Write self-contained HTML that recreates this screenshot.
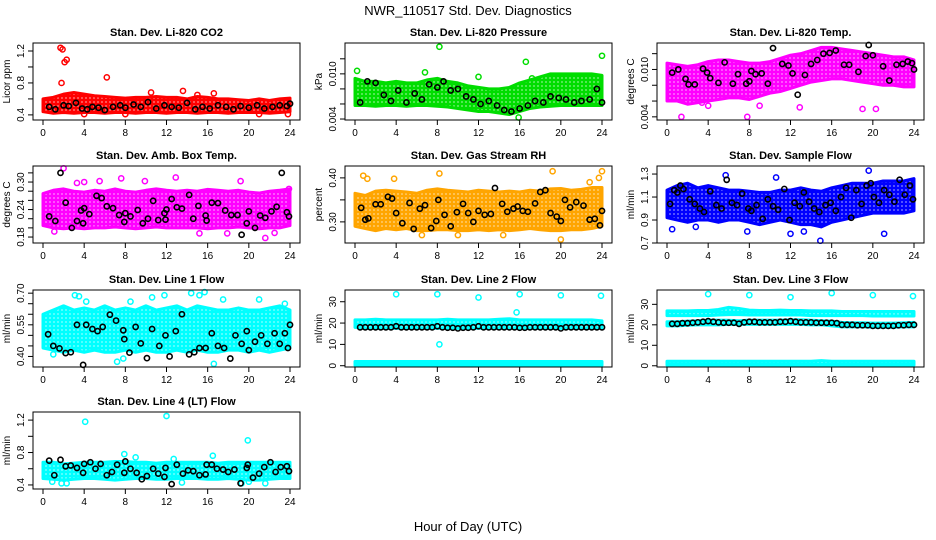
<!DOCTYPE html>
<html><head><meta charset="utf-8">
<style>
html,body{margin:0;padding:0;background:#fff;}
svg{display:block;font-family:"Liberation Sans",sans-serif;}
</style></head>
<body>
<svg id="chart" width="936" height="540" viewBox="0 0 936 540" xmlns="http://www.w3.org/2000/svg">
<defs id="defs"></defs>
<rect width="936" height="540" fill="#fff"/>
<text x="468" y="15" text-anchor="middle" font-size="13">NWR_110517  Std. Dev. Diagnostics</text>
<text x="468" y="531" text-anchor="middle" font-size="13">Hour of Day (UTC)</text>
</svg>
<script>
const hours = [0,1,2,3,4,5,6,7,8,9,10,11,12,13,14,15,16,17,18,19,20,21,22,23,24];
const xTicks = [0,4,8,12,16,20,24];

// CO2
const co2Lo = [0.44,0.42,0.43,0.42,0.43,0.43,0.42,0.43,0.43,0.42,0.43,0.43,0.42,0.43,0.43,0.42,0.43,0.43,0.42,0.43,0.43,0.43,0.42,0.43,0.44];
const co2Hi = [0.60,0.62,0.66,0.68,0.66,0.64,0.63,0.62,0.61,0.62,0.62,0.63,0.62,0.62,0.60,0.63,0.62,0.60,0.60,0.59,0.58,0.60,0.58,0.60,0.61];
const co2OutX = [1.7,1.9,2.1,2.3,1.8,6.2,13.6,16.6,23.8,8.0,4.0,10.5,15.0,21.0];
const co2OutY = [1.24,1.22,1.06,1.09,0.80,0.87,0.70,0.67,0.41,0.41,0.41,0.68,0.65,0.41];
const co2BlkX = [0.6,1.2,2.0,2.5,3.2,3.8,4.3,4.8,5.4,6.0,6.8,7.5,8.0,8.8,9.5,10.2,11.0,11.8,12.5,13.2,14.0,14.8,15.5,16.2,17.0,17.8,18.5,19.2,20.0,20.8,21.5,22.3,23.0,23.7,24.0];
const co2BlkY = [0.50,0.47,0.52,0.51,0.55,0.48,0.47,0.50,0.49,0.46,0.50,0.52,0.49,0.53,0.50,0.56,0.48,0.52,0.50,0.49,0.55,0.47,0.50,0.48,0.52,0.50,0.47,0.51,0.49,0.52,0.48,0.50,0.52,0.51,0.54];

// Pressure
const prsLo = [0.0058,0.0058,0.0057,0.0058,0.0058,0.0057,0.0058,0.0058,0.0057,0.0056,0.0054,0.0052,0.0050,0.0050,0.0048,0.0046,0.0050,0.0054,0.0056,0.0057,0.0058,0.0058,0.0058,0.0058,0.0058];
const prsHi = [0.0094,0.0090,0.0090,0.0088,0.0090,0.0088,0.0088,0.0092,0.0094,0.0090,0.0088,0.0084,0.0082,0.0080,0.0080,0.0082,0.0088,0.0092,0.0096,0.0100,0.0100,0.0100,0.0100,0.0100,0.0098];
const prsOutX = [8.2,16.6,24.0,0.2,17.2,15.9,6.8,12.0];
const prsOutY = [0.0136,0.0116,0.0124,0.0104,0.0094,0.0042,0.0102,0.0096];
const prsBlkX = [0.5,1.2,2.0,2.8,3.5,4.2,5.0,5.8,6.5,7.2,8.0,8.6,9.3,10.0,10.8,11.5,12.2,13.0,13.8,14.5,15.2,16.0,16.8,17.5,18.3,19.0,19.8,20.5,21.3,22.0,22.8,23.5,24.0];
const prsBlkY = [0.0062,0.0090,0.0088,0.0072,0.0064,0.0078,0.0062,0.0074,0.0066,0.0086,0.0082,0.0090,0.0078,0.0080,0.0070,0.0066,0.0060,0.0064,0.0058,0.0052,0.0050,0.0054,0.0058,0.0064,0.0062,0.0070,0.0068,0.0066,0.0062,0.0064,0.0066,0.0080,0.0062];

// Li-820 Temp
const tmpLo = [0.0060,0.0060,0.0056,0.0058,0.0060,0.0062,0.0064,0.0064,0.0062,0.0066,0.0070,0.0072,0.0076,0.0080,0.0084,0.0086,0.0088,0.0088,0.0086,0.0084,0.0082,0.0080,0.0080,0.0078,0.0078];
const tmpHi = [0.0108,0.0106,0.0104,0.0106,0.0110,0.0112,0.0112,0.0110,0.0108,0.0108,0.0110,0.0114,0.0118,0.0120,0.0124,0.0128,0.0128,0.0126,0.0124,0.0122,0.0120,0.0118,0.0116,0.0116,0.0112];
const tmpOutX = [1.4,7.8,12.9,19.0,20.3,9.0,4.0,3.4];
const tmpOutY = [0.0040,0.0040,0.0052,0.0050,0.0050,0.0054,0.0054,0.0058];
const tmpBlkX = [0.5,1.1,1.8,2.1,2.7,3.5,3.9,4.2,5.0,5.6,6.4,6.9,7.7,8.0,8.2,8.6,9.2,9.8,10.3,11.2,11.8,12.2,12.7,13.4,14.0,14.6,15.2,15.8,16.4,17.2,17.7,18.6,19.3,19.6,20.0,21.0,21.6,22.3,22.9,23.4,23.8,24.0];
const tmpBlkY = [0.0096,0.0100,0.0088,0.0081,0.0081,0.0101,0.0096,0.0089,0.0083,0.0109,0.0082,0.0094,0.0082,0.0085,0.0098,0.0094,0.0095,0.0082,0.0127,0.0107,0.0105,0.0095,0.0068,0.0093,0.0107,0.0112,0.0120,0.0121,0.0124,0.0106,0.0106,0.0097,0.0117,0.0131,0.0118,0.0104,0.0086,0.0106,0.0107,0.0110,0.0108,0.0100];

// Amb box temp
const ambLo = [0.205,0.200,0.198,0.200,0.198,0.200,0.200,0.202,0.200,0.198,0.200,0.202,0.200,0.200,0.200,0.200,0.198,0.200,0.200,0.202,0.200,0.198,0.200,0.200,0.205];
const ambHi = [0.275,0.282,0.285,0.280,0.278,0.282,0.280,0.285,0.280,0.278,0.282,0.285,0.282,0.280,0.282,0.280,0.284,0.282,0.280,0.282,0.278,0.276,0.280,0.282,0.285];
const ambOutX = [2.0,5.5,7.6,12.9,3.3,15.2,19.2,21.6,17.9,22.5,23.9,1.1,9.9,4.0];
const ambOutY = [0.330,0.302,0.308,0.310,0.298,0.188,0.302,0.178,0.188,0.189,0.285,0.192,0.302,0.300];
const ambBlkX = [0.6,1.2,1.7,2.2,2.8,3.3,3.7,3.9,4.0,4.5,5.2,5.7,6.2,6.8,7.4,7.9,8.0,8.5,9.2,9.7,10.2,10.7,11.2,11.8,11.9,12.0,12.5,13.0,13.5,14.2,14.6,15.1,15.8,15.9,16.4,17.0,17.7,18.3,18.9,19.3,19.8,20.0,20.6,21.1,21.6,22.2,22.7,23.2,23.7,23.9];
const ambBlkY = [0.225,0.215,0.320,0.255,0.200,0.215,0.238,0.210,0.243,0.230,0.270,0.265,0.247,0.243,0.228,0.213,0.232,0.225,0.239,0.210,0.220,0.259,0.217,0.232,0.218,0.240,0.263,0.245,0.242,0.272,0.220,0.248,0.227,0.216,0.255,0.254,0.238,0.228,0.228,0.185,0.210,0.236,0.200,0.227,0.222,0.236,0.246,0.320,0.234,0.225];

// RH
const rhLo = [0.290,0.285,0.280,0.285,0.282,0.285,0.280,0.280,0.282,0.282,0.280,0.280,0.282,0.280,0.282,0.280,0.282,0.285,0.282,0.280,0.280,0.282,0.282,0.285,0.290];
const rhHi = [0.365,0.360,0.370,0.372,0.370,0.368,0.365,0.372,0.375,0.372,0.370,0.368,0.372,0.370,0.368,0.370,0.368,0.372,0.370,0.375,0.376,0.372,0.374,0.378,0.378];
const rhOutX = [0.8,1.2,3.8,8.2,6.5,14.4,19.2,20.0,24.0,23.7,22.8,10.0];
const rhOutY = [0.405,0.398,0.398,0.410,0.270,0.270,0.415,0.260,0.415,0.400,0.390,0.270];
const rhBlkX = [0.6,1.0,1.3,2.0,2.5,3.2,3.6,4.0,4.6,5.3,5.7,6.3,6.8,7.4,7.9,8.1,8.7,9.3,9.9,10.5,11.0,11.5,12.0,12.6,13.2,13.6,14.3,14.8,15.4,15.8,16.3,16.8,17.5,18.0,18.5,19.0,19.6,20.0,20.4,20.9,21.5,22.2,22.8,23.3,23.8,24.0];
const rhBlkY = [0.332,0.305,0.308,0.340,0.340,0.357,0.353,0.320,0.297,0.343,0.284,0.330,0.338,0.286,0.302,0.350,0.316,0.290,0.322,0.341,0.320,0.300,0.325,0.316,0.318,0.377,0.341,0.323,0.330,0.335,0.325,0.323,0.342,0.368,0.372,0.320,0.312,0.302,0.350,0.333,0.345,0.337,0.305,0.307,0.292,0.325];

// Sample flow
const smpLo = [0.92,0.90,0.88,0.90,0.90,0.88,0.90,0.90,0.88,0.86,0.88,0.90,0.88,0.86,0.86,0.84,0.88,0.90,0.92,0.94,0.96,0.96,0.96,0.96,0.98];
const smpHi = [1.16,1.20,1.22,1.18,1.20,1.18,1.16,1.16,1.15,1.14,1.14,1.16,1.16,1.18,1.16,1.15,1.18,1.20,1.22,1.22,1.22,1.24,1.24,1.24,1.26];
const smpOutX = [0.5,5.7,10.6,19.6,14.9,21.1,7.8,12.0,13.3,2.8];
const smpOutY = [0.82,1.29,1.27,1.33,0.72,0.78,0.80,0.78,0.80,0.84];
const smpBlkX = [0.3,0.7,1.0,1.3,1.6,2.2,2.7,3.2,3.6,4.2,4.8,5.3,5.8,6.3,6.8,7.3,7.9,8.2,8.7,9.3,9.8,10.3,10.8,11.4,11.9,12.4,12.9,13.3,13.8,14.3,14.8,15.4,15.9,16.4,16.9,17.4,17.9,18.4,18.9,19.4,19.8,20.1,20.6,21.1,21.6,22.1,22.6,23.1,23.6,23.9];
const smpBlkY = [1.04,1.16,1.14,1.20,1.17,1.08,1.04,1.00,0.97,1.15,1.03,1.00,1.25,1.05,1.03,1.13,1.00,0.98,1.03,0.91,1.08,1.02,0.99,1.17,0.90,1.05,1.02,1.14,1.06,1.00,0.97,1.03,1.05,0.98,1.10,1.18,0.92,1.16,1.04,1.20,1.22,1.10,1.05,1.16,1.12,1.06,1.25,1.12,1.20,1.08];

// Line 1 flow
const l1Lo = [0.44,0.43,0.42,0.43,0.42,0.43,0.42,0.42,0.43,0.42,0.43,0.42,0.42,0.43,0.42,0.43,0.42,0.42,0.43,0.43,0.42,0.43,0.42,0.43,0.44];
const l1Hi = [0.60,0.62,0.64,0.62,0.63,0.62,0.64,0.62,0.63,0.62,0.64,0.62,0.63,0.64,0.62,0.64,0.63,0.62,0.62,0.63,0.62,0.62,0.63,0.64,0.62];
const l1OutX = [3.1,3.5,4.2,7.2,8.5,10.6,14.4,15.2,15.7,16.6,7.8,11.8,17.5,23.5,21.0,1.0];
const l1OutY = [0.690,0.685,0.660,0.375,0.660,0.680,0.700,0.690,0.705,0.365,0.390,0.690,0.670,0.650,0.670,0.410];
const l1BlkX = [0.5,1.0,1.6,2.2,2.7,3.3,3.9,4.2,4.8,5.3,5.8,6.5,7.1,7.8,7.9,8.4,9.0,9.5,10.1,10.6,11.3,11.9,12.3,12.9,13.5,14.2,14.7,15.2,15.8,16.4,17.0,17.6,18.2,18.7,19.3,19.8,20.0,20.6,21.2,21.8,22.5,23.0,23.5,23.8,24.0];
const l1BlkY = [0.505,0.450,0.438,0.416,0.420,0.550,0.360,0.550,0.530,0.520,0.540,0.598,0.570,0.524,0.482,0.418,0.540,0.462,0.392,0.530,0.450,0.500,0.400,0.520,0.600,0.410,0.420,0.440,0.440,0.510,0.450,0.440,0.390,0.500,0.460,0.520,0.430,0.470,0.500,0.460,0.510,0.460,0.510,0.440,0.550];

// Line 2 flow
const l2MainLo = [18.0,17.5,17.5,17.5,17.5,17.5,17.5,17.5,17.5,17.5,17.5,17.5,17.5,17.5,17.5,17.5,17.5,17.5,17.5,17.5,17.5,17.5,17.5,17.5,17.5];
const l2MainHi = [21.5,21.5,21.8,21.5,21.5,21.5,21.5,21.5,21.5,21.8,21.5,21.5,21.5,21.5,21.8,22.0,21.5,21.5,21.5,21.5,21.5,21.5,21.5,21.5,21.0];
const l2BaseLo = [0.2,0.2,0.2,0.2,0.2,0.2,0.2,0.2,0.2,0.2,0.2,0.2,0.2,0.2,0.2,0.2,0.2,0.2,0.2,0.2,0.2,0.2,0.2,0.2,0.2];
const l2BaseHi = [2.0,2.0,2.0,2.0,2.0,2.0,2.0,2.0,2.0,2.0,2.0,2.0,2.0,2.0,2.0,2.0,2.0,2.0,2.0,2.0,2.0,2.0,2.0,2.0,2.0];
const l2OutX = [4.0,8.0,12.0,16.0,20.0,23.9,8.2,15.7];
const l2OutY = [33.5,33.5,32.0,33.5,33.0,32.8,10.0,25.0];
const l2BlkX = [0.5,1.0,1.5,2.0,2.5,3.0,3.5,4.0,4.5,5.0,5.5,6.0,6.5,7.0,7.5,8.0,8.5,9.0,9.5,10.0,10.5,11.0,11.5,12.0,12.5,13.0,13.5,14.0,14.5,15.0,15.5,16.0,16.5,17.0,17.5,18.0,18.5,19.0,19.5,20.0,20.5,21.0,21.5,22.0,22.5,23.0,23.5,24.0];
const l2BlkY = [18.0,18.0,18.0,18.0,18.0,18.0,18.0,18.5,18.0,18.0,18.0,18.0,18.0,18.0,18.0,18.5,18.0,17.8,17.8,17.5,17.8,17.8,18.0,18.5,18.0,18.0,18.0,18.0,18.0,18.0,18.0,17.8,17.8,18.0,18.0,18.0,18.0,18.0,18.0,17.5,18.0,18.0,18.0,18.0,18.0,18.0,18.0,18.0];

// Line 3 flow
const l3HighLo = [24.5,24.5,24.5,24.5,24.5,24.8,25.0,25.0,24.8,24.8,24.8,24.8,24.8,24.8,24.5,24.5,24.5,24.5,24.5,24.5,24.3,24.3,24.3,24.3,24.3];
const l3HighHi = [26.8,26.8,26.8,27.0,27.0,27.5,28.5,28.0,27.2,27.0,27.0,27.2,27.0,27.0,26.8,26.8,26.8,26.5,26.5,26.5,26.5,26.5,26.5,26.5,26.5];
const l3MidLo = [19.5,19.5,19.8,20.0,20.0,20.0,20.2,20.2,20.2,20.2,20.2,20.2,20.2,20.2,20.0,20.0,19.5,19.0,19.0,19.0,18.8,18.8,18.8,19.0,19.0];
const l3MidHi = [21.5,21.5,21.8,22.0,22.3,22.3,22.2,22.0,22.3,22.3,22.3,22.3,22.5,22.5,22.3,22.0,21.8,21.2,21.0,21.0,20.8,20.8,20.8,21.0,21.2];
const l3BaseLo = [0.3,0.3,0.3,0.3,0.3,0.3,0.3,0.3,0.3,0.3,0.3,0.3,0.3,0.3,0.3,0.3,0.3,0.3,0.3,0.3,0.3,0.3,0.3,0.3,0.3];
const l3BaseHi = [2.2,2.2,2.2,2.2,2.2,2.2,2.2,2.2,2.2,2.2,2.2,2.2,2.2,2.2,2.2,2.5,2.2,2.2,2.2,2.2,2.2,2.2,2.2,2.2,2.2];
const l3OutX = [4.0,8.0,12.0,16.0,20.0,23.9];
const l3OutY = [35.0,34.5,33.5,35.5,34.5,34.0];
const l3BlkX = [0.5,1.0,1.5,2.0,2.5,3.0,3.5,4.0,4.5,5.0,5.5,6.0,6.5,7.0,7.5,8.0,8.5,9.0,9.5,10.0,10.5,11.0,11.5,12.0,12.5,13.0,13.5,14.0,14.5,15.0,15.5,16.0,16.5,17.0,17.5,18.0,18.5,19.0,19.5,20.0,20.5,21.0,21.5,22.0,22.5,23.0,23.5,24.0];
const l3BlkY = [20.5,20.5,20.8,20.8,21.0,21.2,21.5,21.8,21.5,21.2,21.0,21.0,21.0,20.5,21.2,21.5,21.5,21.2,21.2,21.2,21.2,21.5,21.5,21.8,21.5,21.2,21.2,21.2,21.0,21.0,21.0,21.0,20.8,20.0,20.0,20.0,19.8,19.8,19.8,19.5,19.5,19.5,19.5,19.5,19.8,19.8,20.0,20.0];

// Line 4 flow
const l4Lo = [0.48,0.47,0.46,0.47,0.48,0.48,0.47,0.46,0.47,0.48,0.48,0.47,0.47,0.48,0.48,0.48,0.47,0.47,0.48,0.47,0.46,0.46,0.47,0.48,0.48];
const l4Hi = [0.68,0.68,0.66,0.67,0.68,0.68,0.68,0.69,0.69,0.68,0.68,0.67,0.68,0.68,0.68,0.68,0.68,0.67,0.68,0.68,0.68,0.68,0.68,0.68,0.68];
const l4OutX = [4.1,12.0,19.9,7.9,9.0,16.5,0.9,1.8,2.3,13.5,19.3,21.6,12.7,20.0];
const l4OutY = [1.18,1.25,0.95,0.78,0.74,0.76,0.44,0.42,0.42,0.43,0.42,0.42,0.72,0.44];
const l4BlkX = [0.6,1.1,1.7,2.2,2.7,3.3,3.9,4.0,4.6,5.1,5.6,6.2,6.7,7.2,7.9,8.0,8.5,9.1,9.6,10.1,10.7,11.2,11.8,11.9,12.5,13.0,13.6,14.1,14.6,15.2,15.8,15.9,16.4,16.9,17.5,18.0,18.6,19.2,19.8,19.9,20.4,21.0,21.5,22.1,22.6,23.1,23.7,23.9];
const l4BlkY = [0.70,0.52,0.71,0.63,0.64,0.61,0.55,0.66,0.68,0.60,0.66,0.52,0.56,0.65,0.55,0.69,0.60,0.55,0.47,0.51,0.60,0.54,0.50,0.61,0.41,0.65,0.54,0.58,0.57,0.52,0.53,0.65,0.65,0.60,0.59,0.56,0.59,0.42,0.61,0.65,0.49,0.54,0.62,0.68,0.56,0.62,0.63,0.57];

const svg = document.getElementById('chart');
const defs = document.getElementById('defs');
const NS = 'http://www.w3.org/2000/svg';
function mk(tag, attrs, parent) {
  const e = document.createElementNS(NS, tag);
  for (const k in attrs) e.setAttribute(k, attrs[k]);
  (parent || svg).appendChild(e);
  return e;
}
function makePattern(id, color) {
  const p = mk('pattern', {id: id, width: 4, height: 4, patternUnits: 'userSpaceOnUse'}, defs);
  mk('rect', {width: 4, height: 4, fill: color}, p);
  mk('circle', {cx: 2, cy: 2, r: 0.9, fill: '#fff', 'fill-opacity': 0.55}, p);
}
const colors = {red: '#ff0000', green: '#00dd00', magenta: '#ff00ff', orange: '#ffa500', blue: '#0000ff', cyan: '#00ffff'};
for (const c in colors) makePattern('pat-' + c, colors[c]);

const colX = [43, 355, 667];
const rowTop = [43, 166, 290, 412];
const boxH = 77;

const panels = [
  {name: 'co2', title: 'Stan. Dev. Li-820 CO2', ylab: 'Licor ppm', col: 0, row: 0, ymin: 0.336, ymax: 1.30, ticks: [0.4,0.6,0.8,1.0,1.2], labels: ['0.4','','0.8','','1.2'], color: 'red',
    bands: [[co2Lo, co2Hi]], outX: co2OutX, outY: co2OutY, bx: co2BlkX, by: co2BlkY},
  {name: 'pressure', title: 'Stan. Dev. Li-820 Pressure', ylab: 'kPa', col: 1, row: 0, ymin: 0.00387, ymax: 0.0141, ticks: [0.004,0.006,0.008,0.010,0.012], labels: ['0.004','','','0.010',''], color: 'green',
    bands: [[prsLo, prsHi]], outX: prsOutX, outY: prsOutY, bx: prsBlkX, by: prsBlkY},
  {name: 'li820-temp', title: 'Stan. Dev. Li-820 Temp.', ylab: 'degrees C', col: 2, row: 0, ymin: 0.0036, ymax: 0.01335, ticks: [0.004,0.006,0.008,0.010,0.012], labels: ['0.004','','','0.010',''], color: 'magenta',
    bands: [[tmpLo, tmpHi]], outX: tmpOutX, outY: tmpOutY, bx: tmpBlkX, by: tmpBlkY},
  {name: 'amb-box-temp', title: 'Stan. Dev. Amb. Box Temp.', ylab: 'degrees C', col: 0, row: 1, ymin: 0.167, ymax: 0.335, ticks: [0.18,0.20,0.22,0.24,0.26,0.28,0.30,0.32], labels: ['0.18','','','0.24','','','0.30',''], color: 'magenta',
    bands: [[ambLo, ambHi]], outX: ambOutX, outY: ambOutY, bx: ambBlkX, by: ambBlkY},
  {name: 'gas-rh', title: 'Stan. Dev. Gas Stream RH', ylab: 'percent', col: 1, row: 1, ymin: 0.252, ymax: 0.427, ticks: [0.30,0.35,0.40], labels: ['0.30','','0.40'], color: 'orange',
    bands: [[rhLo, rhHi]], outX: rhOutX, outY: rhOutY, bx: rhBlkX, by: rhBlkY},
  {name: 'sample-flow', title: 'Stan. Dev. Sample Flow', ylab: 'ml/min', col: 2, row: 1, ymin: 0.70, ymax: 1.37, ticks: [0.7,0.9,1.1,1.3], labels: ['0.7','0.9','1.1','1.3'], color: 'blue',
    bands: [[smpLo, smpHi]], outX: smpOutX, outY: smpOutY, bx: smpBlkX, by: smpBlkY},
  {name: 'line1-flow', title: 'Stan. Dev. Line 1 Flow', ylab: 'ml/min', col: 0, row: 2, ymin: 0.35, ymax: 0.715, ticks: [0.40,0.45,0.50,0.55,0.60,0.65,0.70], labels: ['0.40','','','0.55','','','0.70'], color: 'cyan',
    bands: [[l1Lo, l1Hi]], outX: l1OutX, outY: l1OutY, bx: l1BlkX, by: l1BlkY},
  {name: 'line2-flow', title: 'Stan. Dev. Line 2 Flow', ylab: 'ml/min', col: 1, row: 2, ymin: -0.6, ymax: 35.5, ticks: [0,10,20,30], labels: ['0','10','20','30'], color: 'cyan',
    bands: [[l2MainLo, l2MainHi],[l2BaseLo, l2BaseHi]], outX: l2OutX, outY: l2OutY, bx: l2BlkX, by: l2BlkY},
  {name: 'line3-flow', title: 'Stan. Dev. Line 3 Flow', ylab: 'ml/min', col: 2, row: 2, ymin: -0.6, ymax: 37.0, ticks: [0,10,20,30], labels: ['0','10','20','30'], color: 'cyan',
    bands: [[l3HighLo, l3HighHi],[l3MidLo, l3MidHi],[l3BaseLo, l3BaseHi]], outX: l3OutX, outY: l3OutY, bx: l3BlkX, by: l3BlkY},
  {name: 'line4-flow', title: 'Stan. Dev. Line 4 (LT) Flow', ylab: 'ml/min', col: 0, row: 3, ymin: 0.35, ymax: 1.30, ticks: [0.4,0.6,0.8,1.0,1.2], labels: ['0.4','','0.8','','1.2'], color: 'cyan',
    bands: [[l4Lo, l4Hi]], outX: l4OutX, outY: l4OutY, bx: l4BlkX, by: l4BlkY}
];

panels.forEach(p => {
  const x0 = colX[p.col], x24 = x0 + 247;
  const top = rowTop[p.row], bot = top + boxH;
  const left = x0 - 10, right = x24 + 10;
  const xs = h => x0 + (h / 24) * (x24 - x0);
  const ys = v => bot - (v - p.ymin) / (p.ymax - p.ymin) * boxH;
  const g = mk('g', {});
  
  
  const clipId = 'clip-' + p.name;
  const cp = mk('clipPath', {id: clipId}, defs);
  mk('rect', {x: left - 3, y: top - 3, width: right - left + 6, height: boxH + 6}, cp);
  const plot = mk('g', {'clip-path': 'url(#' + clipId + ')'}, g);
  const col = colors[p.color];
  // bands
  p.bands.forEach((b, bi) => {
    const lo = b[0], hi = b[1];
    let pts = [];
    hours.forEach((h, i) => pts.push(xs(h) + ',' + ys(hi[i])));
    for (let i = hours.length - 1; i >= 0; i--) pts.push(xs(hours[i]) + ',' + ys(lo[i]));
    const poly = mk('polygon', {points: pts.join(' '), fill: 'url(#pat-' + p.color + ')', stroke: col, 'stroke-width': 3, 'stroke-linejoin': 'round'}, plot);
    
    
  });
  // colored outliers
  p.outX.forEach((h, i) => {
    const c = mk('circle', {cx: xs(h), cy: ys(p.outY[i]), r: 2.6, fill: 'none', stroke: col, 'stroke-width': 1.5}, plot);
    
    
  });
  // black points
  p.bx.forEach((h, i) => {
    const c = mk('circle', {cx: xs(h), cy: ys(p.by[i]), r: 2.6, fill: 'none', stroke: '#000', 'stroke-width': 1.6}, plot);
    
    
  });
  // box
  const box = mk('rect', {x: left, y: top, width: right - left, height: boxH, fill: 'none', stroke: '#000', 'stroke-width': 1}, g);
  
  
  // title
  const t = mk('text', {x: (left + right) / 2, y: top - 7, 'text-anchor': 'middle', 'font-size': 11, 'font-weight': 'bold'}, g);
  t.textContent = p.title;
  
  
  // x axis
  xTicks.forEach(h => {
    mk('line', {x1: xs(h), x2: xs(h), y1: bot, y2: bot + 5, stroke: '#000'}, g);
    const l = mk('text', {x: xs(h), y: bot + 16, 'text-anchor': 'middle', 'font-size': 10}, g);
    l.textContent = h;
    
    
  });
  // y axis
  p.ticks.forEach((v, i) => {
    const y = ys(v);
    mk('line', {x1: left - 5, x2: left, y1: y, y2: y, stroke: '#000'}, g);
    if (p.labels[i]) {
      const l = mk('text', {x: left - 9, y: y, 'text-anchor': 'middle', 'font-size': 10, transform: 'rotate(-90 ' + (left - 9) + ' ' + y + ')'}, g);
      l.textContent = p.labels[i];
      
      
    }
  });
  const yl = mk('text', {x: left - 23, y: top + boxH / 2, 'text-anchor': 'middle', 'font-size': 10, transform: 'rotate(-90 ' + (left - 23) + ' ' + (top + boxH / 2) + ')'}, g);
  yl.textContent = p.ylab;
  
  
});
</script>
</body></html>
